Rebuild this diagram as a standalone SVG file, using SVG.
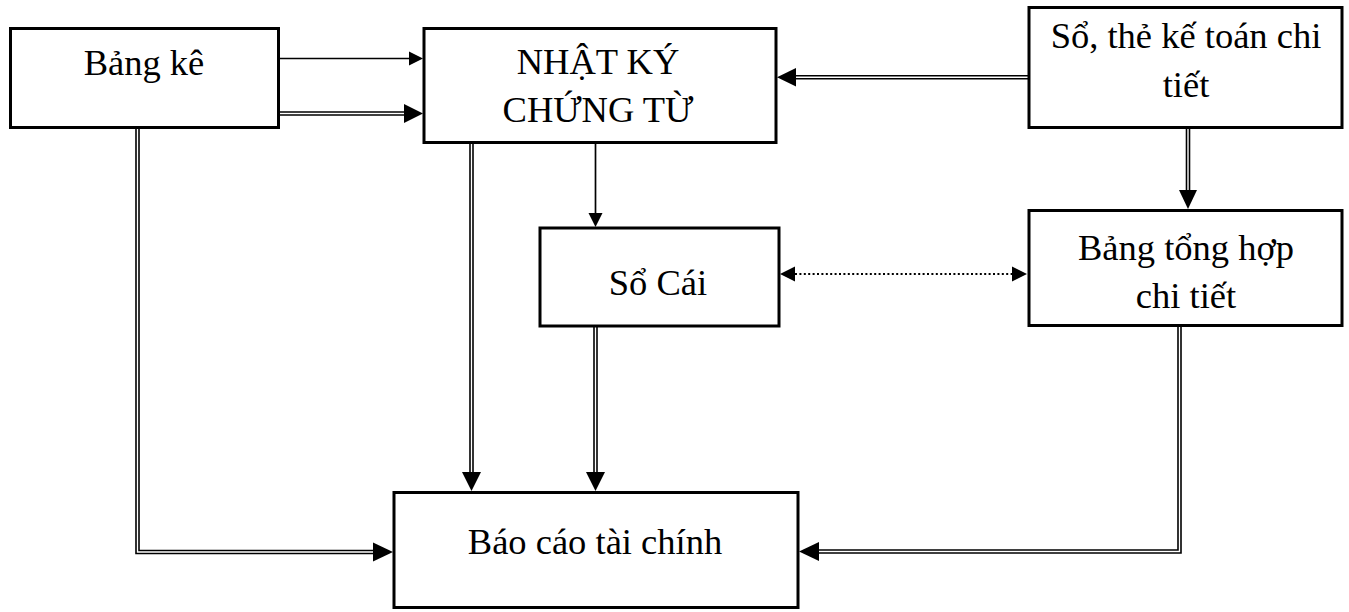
<svg xmlns="http://www.w3.org/2000/svg" width="1349" height="612" viewBox="0 0 1349 612">
<style>
.box{fill:#fff;stroke:#000;stroke-width:3}
.t{font-family:"Liberation Serif","Times New Roman",serif;font-size:36.5px;fill:#000;text-anchor:middle}
.single{fill:none;stroke:#000;stroke-width:1.7}
.dblo{fill:none;stroke:#000;stroke-width:4.6;stroke-linejoin:miter}
.dbli{fill:none;stroke:#fff;stroke-width:1.4;stroke-linejoin:miter}
.dot{fill:none;stroke:#000;stroke-width:2.2;stroke-dasharray:2 2.4}
.head{fill:#000}
</style>
<rect width="1349" height="612" fill="#fff"/>
<g id="connectors">
  <!-- Bang ke -> Nhat ky (single) -->
  <line class="single" x1="279" y1="58.5" x2="410" y2="58.5"/>
  <polygon class="head" points="423,58.5 409,51.5 409,65.5"/>
  <!-- Bang ke -> Nhat ky (double) -->
  <path class="dblo" d="M279,113.5 H406"/>
  <path class="dbli" d="M279,113.5 H406"/>
  <polygon class="head" points="423,113.5 404,104 404,123"/>
  <!-- So the -> Nhat ky (double) -->
  <path class="dblo" d="M1028,77.3 H794"/>
  <path class="dbli" d="M1028,77.3 H794"/>
  <polygon class="head" points="777,77.3 796,68 796,86.6"/>
  <!-- So the -> Bang tong hop (double) -->
  <path class="dblo" d="M1188,128 V192"/>
  <path class="dbli" d="M1188,128 V192"/>
  <polygon class="head" points="1188,209 1179,190 1197,190"/>
  <!-- Nhat ky -> So Cai (single) -->
  <line class="single" x1="595.5" y1="143" x2="595.5" y2="214"/>
  <polygon class="head" points="595.5,227 588.5,213 602.5,213"/>
  <!-- So Cai <-> Bang tong hop (dotted) -->
  <line class="dot" x1="795" y1="274" x2="1012" y2="274"/>
  <polygon class="head" points="780,274 795,266.5 795,281.5"/>
  <polygon class="head" points="1027,274 1012,266.5 1012,281.5"/>
  <!-- Bang ke -> Bao cao (double, elbow) -->
  <path class="dblo" d="M137.5,128 V552 H374"/>
  <path class="dbli" d="M137.5,128 V552 H374"/>
  <polygon class="head" points="393,552 373,542.5 373,561.5"/>
  <!-- Nhat ky -> Bao cao (double) -->
  <path class="dblo" d="M471.5,143 V473"/>
  <path class="dbli" d="M471.5,143 V473"/>
  <polygon class="head" points="471.5,491 462,472 481,472"/>
  <!-- So Cai -> Bao cao (double) -->
  <path class="dblo" d="M595.5,327 V473"/>
  <path class="dbli" d="M595.5,327 V473"/>
  <polygon class="head" points="595.5,491 586,472 605,472"/>
  <!-- Bang tong hop -> Bao cao (double, elbow) -->
  <path class="dblo" d="M1179.5,326 V551.5 H818"/>
  <path class="dbli" d="M1179.5,326 V551.5 H818"/>
  <polygon class="head" points="799,551.5 819,542 819,561"/>
</g>
<g id="bang-ke">
  <rect class="box" x="10.5" y="28.5" width="268" height="99"/>
  <text class="t" x="144" y="75">Bảng kê</text>
</g>
<g id="nhat-ky-chung-tu">
  <rect class="box" x="424" y="28.5" width="352" height="114"/>
  <text class="t" x="598" y="74">NHẬT KÝ</text>
  <text class="t" x="598" y="122">CHỨNG TỪ</text>
</g>
<g id="so-the-ke-toan">
  <rect class="box" x="1029" y="7.5" width="313" height="120"/>
  <text class="t" x="1186" y="48">Sổ, thẻ kế toán chi</text>
  <text class="t" x="1186" y="97">tiết</text>
</g>
<g id="so-cai">
  <rect class="box" x="540" y="228" width="239" height="98"/>
  <text class="t" x="658" y="295">Sổ Cái</text>
</g>
<g id="bang-tong-hop">
  <rect class="box" x="1029" y="210.5" width="313" height="115"/>
  <text class="t" x="1186" y="260">Bảng tổng hợp</text>
  <text class="t" x="1186" y="308">chi tiết</text>
</g>
<g id="bao-cao-tai-chinh">
  <rect class="box" x="394" y="492.5" width="404" height="115"/>
  <text class="t" x="595" y="554">Báo cáo tài chính</text>
</g>
</svg>
